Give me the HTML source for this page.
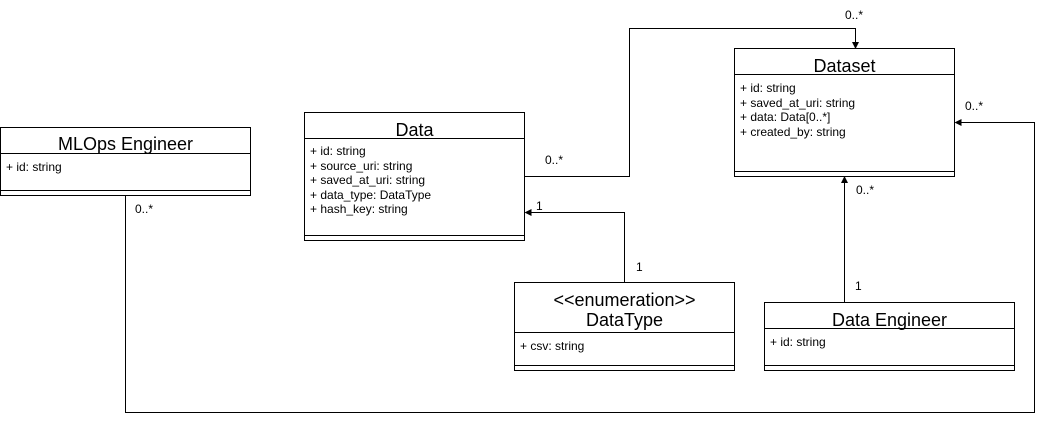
<!DOCTYPE html>
<html><head><meta charset="utf-8"><style>
body{margin:0;width:1043px;height:421px;background:#fff;position:relative;overflow:hidden;font-family:"Liberation Sans",sans-serif;color:#000}
.b{position:absolute;border:1px solid #000;box-sizing:border-box;background:#fff}
.t{position:absolute;left:0;right:0;text-align:center;font-size:18px;line-height:20px}
.h{position:absolute;left:0;right:0;border-top:1px solid #000}
.a{position:absolute;left:5px;font-size:12px;line-height:14.5px;white-space:pre}
.l{position:absolute;font-size:12px;line-height:14px}
</style></head><body>
<svg width="1043" height="421" style="position:absolute;left:0;top:0">
<g fill="none" stroke="#000" stroke-width="1">
<polyline points="524.5,176.5 629.5,176.5 629.5,28.5 855.5,28.5 855.5,44"/>
<polyline points="624.5,282 624.5,212.5 529,212.5"/>
<polyline points="844.5,302 844.5,181"/>
<polyline points="125.5,195 125.5,412.5 1034.5,412.5 1034.5,122.5 959,122.5"/>
</g>
<g fill="#000">
<polygon points="855.5,49 852,42 859,42"/>
<polygon points="524.5,212.5 531.5,209 531.5,216"/>
<polygon points="844.5,176 841,183 848,183"/>
<polygon points="954.5,122.5 961.5,119 961.5,126"/>
</g>
</svg>

<div class="b" style="left:0;top:127px;width:251px;height:69px">
<div class="t" style="top:6px">MLOps Engineer</div>
<div class="h" style="top:25px"></div>
<div class="a" style="top:32px">+ id: string</div>
<div class="h" style="top:62px"></div>
</div>

<div class="b" style="left:304px;top:112px;width:221px;height:129px">
<div class="t" style="top:7px">Data</div>
<div class="h" style="top:25px"></div>
<div class="a" style="top:31px">+ id: string
+ source_uri: string
+ saved_at_uri: string
+ data_type: DataType
+ hash_key: string</div>
<div class="h" style="top:122px"></div>
</div>

<div class="b" style="left:734px;top:48px;width:221px;height:129px">
<div class="t" style="top:7px">Dataset</div>
<div class="h" style="top:25px"></div>
<div class="a" style="top:32px">+ id: string
+ saved_at_uri: string
+ data: Data[0..*]
+ created_by: string</div>
<div class="h" style="top:122px"></div>
</div>

<div class="b" style="left:514px;top:282px;width:221px;height:89px">
<div class="t" style="top:7px">&lt;&lt;enumeration&gt;&gt;<br>DataType</div>
<div class="h" style="top:49px"></div>
<div class="a" style="top:56px">+ csv: string</div>
<div class="h" style="top:82px"></div>
</div>

<div class="b" style="left:764px;top:302px;width:251px;height:69px">
<div class="t" style="top:7px">Data Engineer</div>
<div class="h" style="top:25px"></div>
<div class="a" style="top:32px">+ id: string</div>
<div class="h" style="top:62px"></div>
</div>

<div class="l" style="left:545px;top:153px">0..*</div>
<div class="l" style="left:845px;top:8px">0..*</div>
<div class="l" style="left:536px;top:199px">1</div>
<div class="l" style="left:636px;top:260px">1</div>
<div class="l" style="left:856px;top:183px">0..*</div>
<div class="l" style="left:855px;top:279px">1</div>
<div class="l" style="left:135px;top:202px">0..*</div>
<div class="l" style="left:965px;top:99px">0..*</div>
</body></html>
